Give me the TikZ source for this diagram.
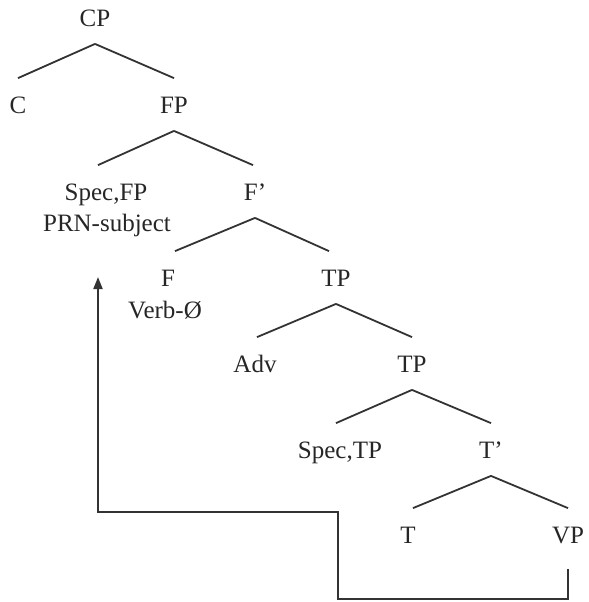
\documentclass[tikz,border=0pt]{standalone}
\usepackage{fontspec}
\setmainfont{Liberation Serif}
\usetikzlibrary{arrows.meta}

\begin{document}
\begin{tikzpicture}[x=0.5pt,y=-0.5pt,line width=0.9pt,
  cat/.style={anchor=base,inner xsep=1pt,inner ysep=8.25pt,text height=9pt,text depth=0pt,font=\fontsize{12.5}{15}\selectfont,text=black!85},
  gloss/.style={anchor=base,inner sep=1pt,font=\fontsize{12.5}{15}\selectfont,text=black!85},
  branch/.style={draw=black!80},
  move/.style={draw=black!80,-{Triangle[length=6pt,width=4.5pt]}}]
  \useasboundingbox (0,0) rectangle (589,602);
  % categories (placed on their baselines)
  \node[cat] (cp) at (95,26.5) {CP};
  \node[cat] (c) at (18,113.5) {C};
  \node[cat] (fp) at (174,113.5) {FP};
  \node[cat] (specfp) at (106,200.5) {Spec,FP};
  \node[gloss] (prnsubj) at (107,231.5) {PRN-subject};
  \node[cat] (fbar) at (255,200.5) {F’};
  \node[cat] (f) at (168,286.5) {F};
  \node[gloss] (verb) at (165,318.5) {Verb-Ø};
  \node[cat] (tp) at (336,286.5) {TP};
  \node[cat] (adv) at (255,372.5) {Adv};
  \node[cat] (tplow) at (412,372.5) {TP};
  \node[cat] (spectp) at (340,458.5) {Spec,TP};
  \node[cat] (tbar) at (491,458.5) {T’};
  \node[cat] (t) at (408,543.5) {T};
  \node[cat] (vp) at (568,543.5) {VP};
  % branches (last value nudges the lower end sideways)
  \foreach \m/\d/\dx in {cp/c/0,cp/fp/0,fp/specfp/-4,fp/fbar/-1,fbar/f/3.5,fbar/tp/-3.5,tp/adv/1,tp/tplow/0,
      tplow/spectp/-2,tplow/tbar/0,tbar/t/2.5,tbar/vp/0}
    \draw[branch] (\m.south) -- ([xshift=\dx pt]\d.north);
  % subject raising
  \coordinate (landing) at (98,277);
  \draw[move] ([yshift=-4pt]vp.south) |- (338,599) -- (338,512) -| (landing);
\end{tikzpicture}
\end{document}
